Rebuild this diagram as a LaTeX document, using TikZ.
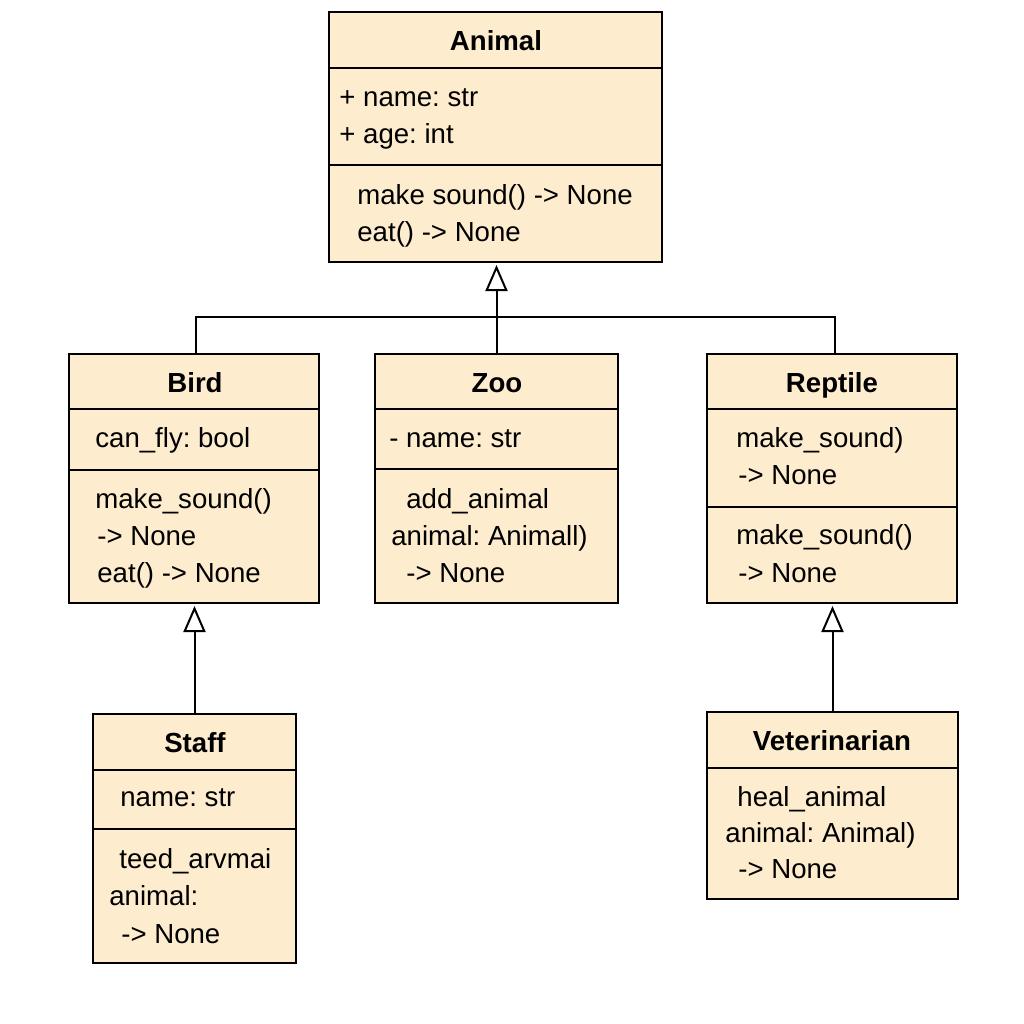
\documentclass[tikz,border=0pt]{standalone}
\usepackage{fontspec}
\setmainfont{Liberation Sans}
\usetikzlibrary{arrows.meta}
\definecolor{boxfill}{RGB}{253,236,206}
\tikzset{
  box/.style={draw=black, line width=1pt, fill=boxfill, inner sep=0pt, outer sep=0pt},
  txt/.style={anchor=base west, inner sep=0pt, font=\fontsize{13.8}{18}\selectfont},
  ttl/.style={anchor=base, inner sep=0pt, font=\fontsize{13.8}{18}\selectfont\bfseries},
  divider/.style={line width=1pt},
  inherit/.style={line width=1pt, -{Triangle[open, width=11pt, length=13pt, line width=1pt]}, shorten >=1.5pt},
  link/.style={line width=1pt}
}
\frenchspacing
\begin{document}
\begin{tikzpicture}[x=0.5pt, y=-0.5pt]
\useasboundingbox (0,0) rectangle (1024,1024);
% boxes
\node[box, minimum width=166.5pt, minimum height=125pt] (animal) at (495.5,137) {};
\node[box, minimum width=125pt, minimum height=124.5pt] (bird) at (194,478.5) {};
\node[box, minimum width=121.5pt, minimum height=124.5pt] (zoo) at (496.5,478.5) {};
\node[box, minimum width=125pt, minimum height=124.5pt] (reptile) at (832,478.5) {};
\node[box, minimum width=101.5pt, minimum height=124.5pt] (staff) at (194.5,838.5) {};
\node[box, minimum width=125.5pt, minimum height=93.5pt] (vet) at (832.5,805.5) {};
% dividers
\draw[divider] (329,68) -- (662,68);
\draw[divider] (329,165) -- (662,165);
\draw[divider] (69,409) -- (319,409);
\draw[divider] (69,470) -- (319,470);
\draw[divider] (375,409) -- (618,409);
\draw[divider] (375,469) -- (618,469);
\draw[divider] (707,409) -- (957,409);
\draw[divider] (707,507) -- (957,507);
\draw[divider] (93,770) -- (296,770);
\draw[divider] (93,829) -- (296,829);
\draw[divider] (707,768) -- (958,768);
% Animal
\node[ttl] (animalT) at (496,50) {Animal};
\node[txt] (a1) at (339,106) {+ name: str};
\node[txt] (a2) at (339,143) {+ age: int};
\node[txt] (a3) at (357,204) {make sound() -> None};
\node[txt] (a4) at (357,241) {eat() -> None};
% Bird
\node[ttl] (birdT) at (195,392) {Bird};
\node[txt] (b1) at (95,447) {can\_fly: bool};
\node[txt] (b2) at (95,508) {make\_sound()};
\node[txt] (b3) at (97,545) {-> None};
\node[txt] (b4) at (97,582) {eat() -> None};
% Zoo
\node[ttl] (zooT) at (497,392) {Zoo};
\node[txt] (z1) at (389,447) {- name: str};
\node[txt] (z2) at (406,508) {add\_animal};
\node[txt] (z3) at (391,545) {animal: Animall)};
\node[txt] (z4) at (406,582) {-> None};
% Reptile
\node[ttl] (reptileT) at (832,392) {Reptile};
\node[txt] (r1) at (736,447) {make\_sound)};
\node[txt] (r2) at (738,484) {-> None};
\node[txt] (r3) at (736,544) {make\_sound()};
\node[txt] (r4) at (738,582) {-> None};
% Staff
\node[ttl] (staffT) at (195,752) {Staff};
\node[txt] (s1) at (120,806) {name: str};
\node[txt] (s2) at (119,868) {teed\_arvmai};
\node[txt] (s3) at (109,905) {animal:};
\node[txt] (s4) at (121,943) {-> None};
% Veterinarian
\node[ttl] (vetT) at (832,750) {Veterinarian};
\node[txt] (v1) at (737,806) {heal\_animal};
\node[txt] (v2) at (725,842) {animal: Animal)};
\node[txt] (v3) at (738,878) {-> None};
% connectors
\coordinate (j) at (496,317);
\draw[inherit] (zoo.north) -- (zoo.north |- animal.south);
\draw[link] ([xshift=1pt]bird.north) |- (j) -| ([xshift=1.5pt]reptile.north);
\draw[inherit] (staff.north) -- (staff.north |- bird.south);
\draw[inherit] (vet.north) -- (vet.north |- reptile.south);
\end{tikzpicture}
\end{document}
